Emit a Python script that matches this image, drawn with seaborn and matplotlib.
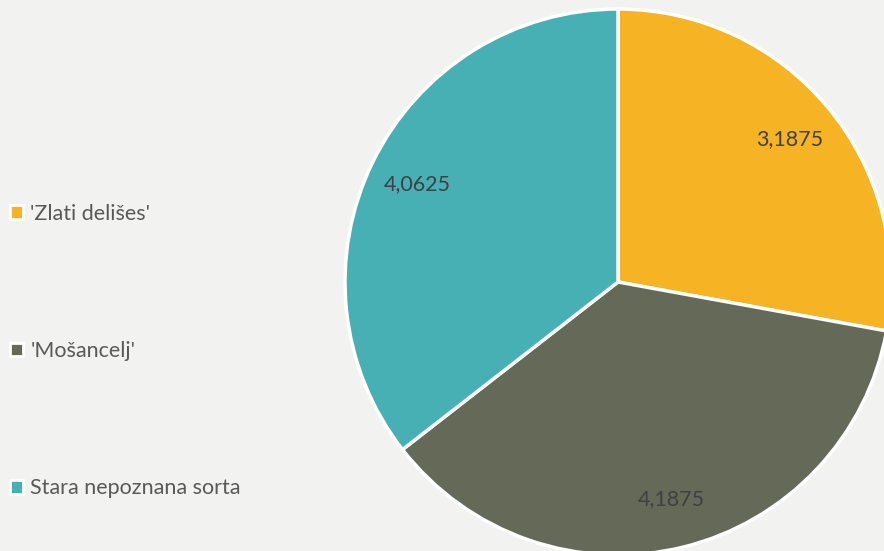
import matplotlib
matplotlib.use("Agg")
import matplotlib.pyplot as plt
import seaborn as sns
import numpy as np
from matplotlib.patches import Patch

categories = ["'Zlati delišes'", "'Mošancelj'", "Stara nepoznana sorta"]
values = [3.1875, 4.1875, 4.0625]
colors = ["#F6B324", "#646A57", "#46B0B5"]

sns.set_theme(style="white")
plt.rcParams['font.family'] = ['Lato', 'DejaVu Sans']

palette = sns.color_palette(colors)
bg = "#F2F2F1"

fig = plt.figure(figsize=(8.84, 5.51), dpi=100, facecolor=bg)
W, H = 884, 551
cx, cy, r = 618, 551 - 282, 273
ax = fig.add_axes([(cx - r) / W, (cy - r) / H, 2 * r / W, 2 * r / H])
ax.set_facecolor(bg)

wedges = ax.pie(values, colors=palette, startangle=90, counterclock=False,
                radius=1.0, wedgeprops=dict(edgecolor="white", linewidth=2.5))[0]
for w, v in zip(wedges, values):
    ang = np.deg2rad((w.theta1 + w.theta2) / 2)
    ax.text(0.82 * np.cos(ang), 0.82 * np.sin(ang), f"{v}".replace(".", ","),
            ha="center", va="center", fontsize=15.5, color="#404040")
ax.set_xlim(-1, 1)
ax.set_ylim(-1, 1)
ax.set_aspect("equal")
ax.axis("off")

handles = [Patch(facecolor=c, edgecolor="white", linewidth=2) for c in palette]
leg = fig.legend(handles, categories, loc="center left",
                 frameon=False, fontsize=15.5, labelspacing=5.45, handlelength=0.6,
                 handleheight=0.6, handletextpad=0.35, borderaxespad=0, borderpad=0.0)
leg.set_bbox_to_anchor((10 / W, 1 - 351 / H), transform=fig.transFigure)
for t in leg.get_texts():
    t.set_color("#595959")

fig.savefig("out.png", dpi=100, facecolor=bg)
